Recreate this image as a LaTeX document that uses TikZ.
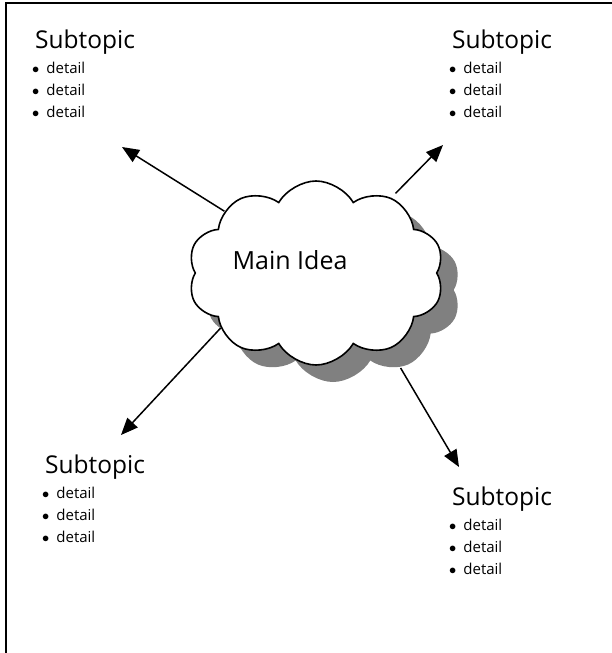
\documentclass[tikz,border=0pt]{standalone}
\usepackage{fontspec}
\setmainfont{Open Sans}
\usetikzlibrary{shapes.symbols,shadows,arrows.meta}
\tikzset{
  topic/.style={inner sep=0pt,anchor=base west,font=\fontsize{24.5}{24}\selectfont},
  detail/.style={inner sep=0pt,anchor=base west,font=\fontsize{15}{15}\selectfont},
  link/.style={line width=1.5pt,-{Triangle[length=17pt,width=14pt]}},
}
\begin{document}
\begin{tikzpicture}[x=1pt,y=-1pt]
\useasboundingbox (0,0) rectangle (612,653);
% frame
\draw[line width=2.5pt] (612,3) -- (6,3) -- (6,653);
% cloud
\node[cloud,draw,fill=white,line width=1.6pt,cloud puffs=10,cloud puff arc=120,aspect=1.45,
  minimum width=256pt,minimum height=184pt,inner sep=0pt,
  drop shadow={shadow xshift=17pt,shadow yshift=-17pt,fill=gray,opacity=1}] (main) at (316,273) {};
\node (idea) at (290,260) {\fontsize{25}{25}\selectfont Main Idea};
% subtopics
\foreach \n/\x/\y in {tl/35/48,tr/452/48,bl/45/473,br/452/505}{
  \node[topic] (\n) at (\x,\y) {Subtopic};
  \foreach \i/\d in {1/25,2/47,3/69}
    \node[detail] (\n-\i) at (\x-3,\y+\d) {$\bullet$\hspace{7pt}detail};
}
% arrows
\coordinate (tltip) at (122,147);
\coordinate (trtip) at (443,145);
\coordinate (bltip) at (121,435);
\coordinate (brtip) at (459,467);
\draw[link] (main.146) -- (tltip);
\draw[link,shorten <=6pt] (main.45) -- (trtip);
\draw[link] (main.210) -- (bltip);
\draw[link,shorten <=22pt] (main.314) -- (brtip);
\end{tikzpicture}
\end{document}
